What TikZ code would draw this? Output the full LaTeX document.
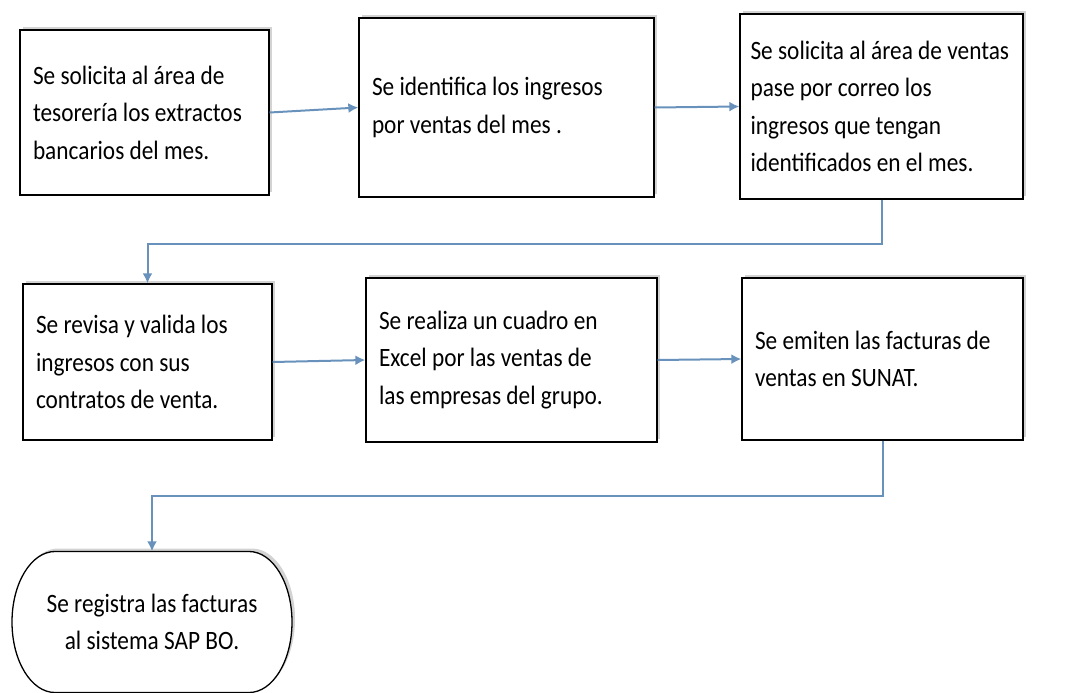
\documentclass[tikz,border=0pt]{standalone}
\usepackage{fontspec}
\setmainfont{Carlito}[FakeStretch=0.88]
\usepackage{tikz}
\usetikzlibrary{arrows.meta,shadows}
\definecolor{flujo}{RGB}{104,146,188}
\hyphenpenalty=10000

\begin{document}
\begin{tikzpicture}[x=1pt,y=-1pt,
        sombra/.style={drop shadow={shadow xshift=3pt,shadow yshift=3pt,opacity=0.35}},
        paso/.style={draw,line width=1.3pt,fill=white,align=left,inner xsep=13pt,
            font=\fontsize{26.5}{37.5}\selectfont,
            execute at begin node={\spaceskip=0pt\xspaceskip=0pt},sombra},
        fin/.style={align=center,inner sep=0pt,
            font=\fontsize{26.5}{37.5}\selectfont,
            execute at begin node={\spaceskip=0pt\xspaceskip=0pt}},
        borde/.style={draw,line width=1.3pt,fill=white,sombra},
        flecha/.style={draw=flujo,line width=2pt,-{Latex[length=10pt,width=10pt]}}]
        \useasboundingbox (0,0) rectangle (1065,693);

        \coordinate (p1) at (144.5,112.5);
        \coordinate (p2) at (506.5,107.5);
        \coordinate (p3) at (881.5,106.5);
        \coordinate (p4) at (147.5,362);
        \coordinate (p5) at (511.5,360);
        \coordinate (p6) at (882.5,359);
        \coordinate (p7) at (152,622);

        \node[paso,text width=223pt,minimum height=165pt] (b1) at (p1){Se solicita al área de\\tesorería los extractos\\bancarios del mes.};
        \node[paso,text width=269pt,minimum height=179pt] (b2) at (p2){Se identifica los ingresos\\por ventas del mes .};
        \node[paso,text width=262pt,inner xsep=10.5pt,minimum height=185pt] (b3) at (p3){Se solicita al área de ventas\\pase por correo los\\ingresos que tengan\\identificados en el mes.};
        \node[paso,text width=223pt,minimum height=156pt] (b4) at (p4){Se revisa y valida los\\ingresos con sus\\contratos de venta.};
        \node[paso,text width=265pt,minimum height=164pt] (b5) at (p5){Se realiza un cuadro en\\Excel por las ventas de\\las empresas del grupo.};
        \node[paso,text width=255pt,minimum height=162pt] (b6) at (p6){Se emiten las facturas de\\ventas en SUNAT.};
        \path[borde] (p7) ++(-97pt,70.5pt) -- ++(194pt,0pt)
            arc[start angle=90,end angle=-90,x radius=43pt,y radius=70.5pt]
            -- ++(-194pt,0pt)
            arc[start angle=270,end angle=90,x radius=43pt,y radius=70.5pt] -- cycle;
        \node[fin,minimum width=280pt,minimum height=141pt] (b7) at (p7){Se registra las facturas\\al sistema SAP BO.};

        \draw[flecha] (b1.east) -- (b2.west);
        \draw[flecha] (b2.east) -- (b3.west);
        \draw[flecha] (b3.south) -- ++(0,44) -| (b4.north);
        \draw[flecha] (b4.east) -- (b5.west);
        \draw[flecha] (b5.east) -- (b6.west);
        \draw[flecha] (b6.south) -- ++(0,55) -| (b7.north);
    \end{tikzpicture}
\end{document}
